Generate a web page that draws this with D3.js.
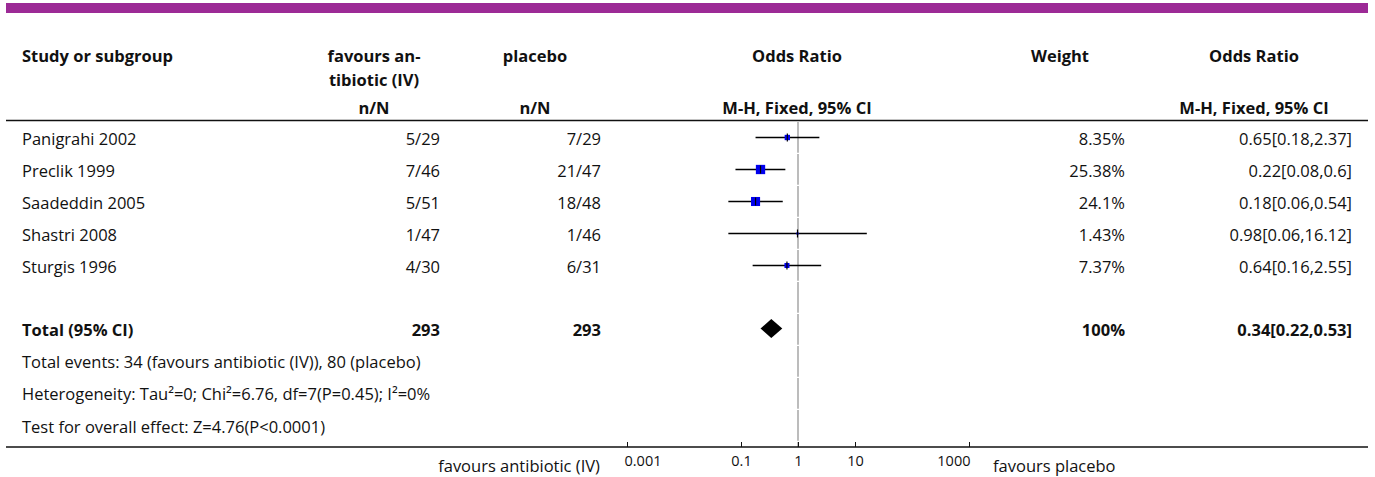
<!DOCTYPE html>
<html>
<head>
<meta charset="utf-8">
<script src="https://cdn.jsdelivr.net/npm/d3@7"></script>
<style>
  body { margin: 0; background: #fff; }
  svg { font-family: "Open Sans", Lato, sans-serif; }
</style>
</head>
<body>
<div id="forest"></div>
<script>
var studies = ["Panigrahi 2002", "Preclik 1999", "Saadeddin 2005", "Shastri 2008", "Sturgis 1996"]
var expEvents = [5, 7, 5, 1, 4]
var expTotal = [29, 46, 51, 47, 30]
var ctrlEvents = [7, 21, 18, 1, 6]
var ctrlTotal = [29, 47, 48, 46, 31]
var weights = [8.35, 25.38, 24.1, 1.43, 7.37]
var oddsRatio = [0.65, 0.22, 0.18, 0.98, 0.64]
var ciLow = [0.18, 0.08, 0.06, 0.06, 0.16]
var ciHigh = [2.37, 0.6, 0.54, 16.12, 2.55]

var total = { label: "Total (95% CI)", exp: 293, ctrl: 293, weight: 100, or: 0.34, lo: 0.22, hi: 0.53 }
var footNotes = [
    "Total events: 34 (favours antibiotic (IV)), 80 (placebo)",
    "Heterogeneity: Tau\u00b2=0; Chi\u00b2=6.76, df=7(P=0.45); I\u00b2=0%",
    "Test for overall effect: Z=4.76(P<0.0001)"
]
var axisTicks = [0.001, 0.1, 1, 10, 1000]
var leftLabel = "favours antibiotic (IV)",
    rightLabel = "favours placebo"

var width = 1375,
    height = 477,
    fontSize = 16.5

var svg = d3.select("#forest").append("svg")
    .attr("width", width)
    .attr("height", height)

// purple banner
svg.append("rect")
    .attr("x", 6).attr("y", 3)
    .attr("width", 1362).attr("height", 10)
    .attr("fill", "#9c2a96")

var x = d3.scaleLog().domain([0.001, 1000]).range([627, 969])
var y = d3.scaleLinear().domain([0, 9]).range([139, 427])
var boxSize = d3.scaleSqrt().domain([0, 25.38]).range([0, 9.3])

// column positions
var col = { study: 22, expHead: 374, exp: 440, ctrlHead: 535, ctrl: 601, plot: 797, wHead: 1060, w: 1125, orHead: 1254, or: 1352 }

function txt(xp, yp, s, anchor, bold, size) {
    return svg.append("text")
        .attr("x", xp).attr("y", yp)
        .attr("dy", "0.35em")
        .attr("text-anchor", anchor || "start")
        .attr("font-weight", bold ? "bold" : "normal")
        .attr("font-size", size || fontSize)
        .attr("fill", "#111")
        .text(s)
}

// headers
txt(col.study, 56, "Study or subgroup", "start", true)
txt(col.expHead, 56, "favours an-", "middle", true)
txt(col.expHead, 80, "tibiotic (IV)", "middle", true)
txt(col.ctrlHead, 56, "placebo", "middle", true)
txt(col.plot, 56, "Odds Ratio", "middle", true)
txt(col.wHead, 56, "Weight", "middle", true)
txt(col.orHead, 56, "Odds Ratio", "middle", true)
txt(col.expHead, 108, "n/N", "middle", true)
txt(col.ctrlHead, 108, "n/N", "middle", true)
txt(col.plot, 108, "M-H, Fixed, 95% CI", "middle", true)
txt(col.orHead, 108, "M-H, Fixed, 95% CI", "middle", true)

svg.append("line")
    .attr("x1", 6).attr("x2", 1368)
    .attr("y1", 120.5).attr("y2", 120.5)
    .attr("stroke", "#111").attr("stroke-width", 1.5)

// line of no effect (small breaks at the row borders)
svg.append("line")
    .attr("x1", x(1)).attr("x2", x(1))
    .attr("y1", 122).attr("y2", 447)
    .attr("stroke", "#a6a6a6").attr("stroke-width", 1.5)
    .attr("stroke-dasharray", "30.8 1.2")

// study rows
studies.forEach(function(s, i) {
    var yy = y(i)
    txt(col.study, yy, s)
    txt(col.exp, yy, expEvents[i] + "/" + expTotal[i], "end")
    txt(col.ctrl, yy, ctrlEvents[i] + "/" + ctrlTotal[i], "end")
    txt(col.w, yy, weights[i] + "%", "end")
    txt(col.or, yy, oddsRatio[i] + "[" + ciLow[i] + "," + ciHigh[i] + "]", "end")

    var cy = yy - 1.5
    svg.append("line")
        .attr("x1", x(ciLow[i])).attr("x2", x(ciHigh[i]))
        .attr("y1", cy).attr("y2", cy)
        .attr("stroke", "#000").attr("stroke-width", 1.4)
    var b = boxSize(weights[i])
    svg.append("rect")
        .attr("x", x(oddsRatio[i]) - b / 2).attr("y", cy - b / 2)
        .attr("width", b).attr("height", b)
        .attr("fill", "#0000ee")
    svg.append("line")
        .attr("x1", x(oddsRatio[i])).attr("x2", x(oddsRatio[i]))
        .attr("y1", cy - 4).attr("y2", cy + 4)
        .attr("stroke", "#000").attr("stroke-width", 1.2)
})

// total row
var ty = y(6) - 1
txt(col.study, ty, total.label, "start", true)
txt(col.exp, ty, total.exp, "end", true)
txt(col.ctrl, ty, total.ctrl, "end", true)
txt(col.w, ty, total.weight + "%", "end", true)
txt(col.or, ty, total.or + "[" + total.lo + "," + total.hi + "]", "end", true)

var dy = ty - 1.5
svg.append("path")
    .attr("d", "M" + x(total.lo) + "," + dy +
        "L" + x(total.or) + "," + (dy - 9.5) +
        "L" + x(total.hi) + "," + dy +
        "L" + x(total.or) + "," + (dy + 9.5) + "Z")
    .attr("fill", "#000")

footNotes.forEach(function(f, i) {
    txt(col.study, y(7 + i) - 1 + i * 0.5, f)
})

// bottom axis
svg.append("line")
    .attr("x1", 6).attr("x2", 1368)
    .attr("y1", 447).attr("y2", 447)
    .attr("stroke", "#111").attr("stroke-width", 1.5)

var axis = d3.axisBottom(x)
    .tickValues(axisTicks)
    .tickSizeInner(-5)
    .tickSizeOuter(0)
    .tickPadding(9)
    .tickFormat(function(d) { return String(d) })

var gAxis = svg.append("g")
    .attr("transform", "translate(0,447)")
    .call(axis)
gAxis.select(".domain").remove()
gAxis.selectAll("text")
    .attr("font-family", "\"Open Sans\", sans-serif")
    .attr("font-size", 14.5)
    .attr("fill", "#111")
gAxis.selectAll("line").attr("stroke", "#111")
// end labels sit inside the plot range
gAxis.selectAll(".tick text")
    .attr("text-anchor", function(d, i) { return i == 0 ? "start" : (i == axisTicks.length - 1 ? "end" : "middle") })
    .attr("dx", function(d, i) { return i == 0 ? -3 : (i == axisTicks.length - 1 ? 1 : 0) })

txt(600, 466, leftLabel, "end")
txt(993, 466, rightLabel, "start")
</script>
</body>
</html>
